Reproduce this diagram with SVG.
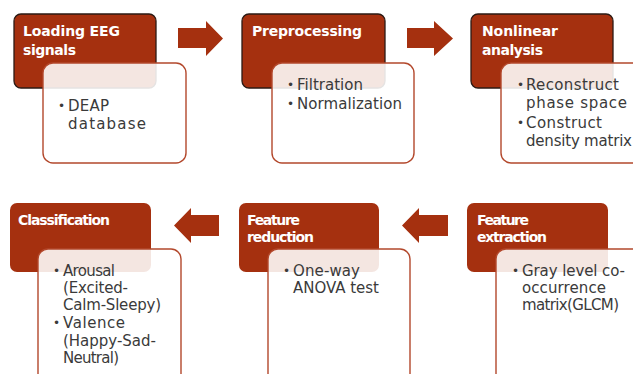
<svg xmlns="http://www.w3.org/2000/svg" width="633" height="374" viewBox="0 0 633 374">
<style>
.hd{fill:#a5300f;}
.hdo{fill:#a5300f;stroke:#2b1a14;stroke-width:1.3;}
.bd{fill:#ffffff;fill-opacity:0.88;stroke:#b3482c;stroke-width:1.4;}
.ht{font-family:"DejaVu Sans","Liberation Sans",Arial,sans-serif;font-weight:bold;font-size:14px;fill:#ffffff;}
.bt{font-family:"DejaVu Sans","Liberation Sans",Arial,sans-serif;font-size:15px;fill:#3a3a3a;}
.bu{font-family:"DejaVu Sans","Liberation Sans",Arial,sans-serif;font-size:12px;fill:#3a3a3a;}
.ar{fill:#a5300f;}
</style>
<rect width="633" height="374" fill="#ffffff"/>
<g id="connectors">
<polygon class="ar" points="178,28 206,28 206,21 223,38.5 206,56 206,48 178,48"/>
<polygon class="ar" points="407,28 434,28 434,21 453,38.5 434,56 434,48 407,48"/>
<polygon class="ar" points="219,215 191,215 191,208 174,225.5 191,243 191,236 219,236"/>
<polygon class="ar" points="448,215 419,215 419,208 402,225.5 419,243 419,236 448,236"/>
</g>
<g id="node-loading">
<rect class="hdo" x="14" y="14" width="142" height="74" rx="7"/>
<text class="ht" x="23" y="36" textLength="97" lengthAdjust="spacing">Loading EEG</text>
<text class="ht" x="23" y="55" textLength="53" lengthAdjust="spacing">signals</text>
<rect class="bd" x="43" y="63" width="143" height="100" rx="10"/>
<text class="bu" x="58" y="110">•</text>
<text class="bt" x="68" y="111" textLength="41" lengthAdjust="spacing">DEAP</text>
<text class="bt" x="68" y="129" textLength="78" lengthAdjust="spacing">database</text>
</g>
<g id="node-preprocessing">
<rect class="hdo" x="242" y="14" width="143" height="74" rx="7"/>
<text class="ht" x="252" y="36" textLength="110" lengthAdjust="spacing">Preprocessing</text>
<rect class="bd" x="272" y="63" width="142" height="100" rx="10"/>
<text class="bu" x="287" y="89">•</text>
<text class="bt" x="297" y="90" textLength="66" lengthAdjust="spacing">Filtration</text>
<text class="bu" x="287" y="108">•</text>
<text class="bt" x="297" y="109" textLength="105" lengthAdjust="spacing">Normalization</text>
</g>
<g id="node-nonlinear">
<rect class="hdo" x="471" y="14" width="142" height="74" rx="7"/>
<text class="ht" x="482" y="36" textLength="76" lengthAdjust="spacing">Nonlinear</text>
<text class="ht" x="482" y="55" textLength="61" lengthAdjust="spacing">analysis</text>
<rect class="bd" x="501" y="63" width="142" height="100" rx="10"/>
<text class="bu" x="517" y="89">•</text>
<text class="bt" x="526" y="90" textLength="93" lengthAdjust="spacing">Reconstruct</text>
<text class="bt" x="526" y="108" textLength="101" lengthAdjust="spacing">phase space</text>
<text class="bu" x="517" y="127">•</text>
<text class="bt" x="526" y="128" textLength="76" lengthAdjust="spacing">Construct</text>
<text class="bt" x="526" y="146" textLength="106" lengthAdjust="spacing">density matrix</text>
</g>
<g id="node-classification">
<rect class="hd" x="10" y="203" width="141" height="69" rx="7"/>
<text class="ht" x="18" y="225" textLength="92" lengthAdjust="spacing">Classification</text>
<rect class="bd" x="38" y="249" width="143" height="135" rx="10"/>
<text class="bu" x="53" y="275">•</text>
<text class="bt" x="63" y="276" textLength="52" lengthAdjust="spacing">Arousal</text>
<text class="bt" x="63" y="293" textLength="65" lengthAdjust="spacing">(Excited-</text>
<text class="bt" x="63" y="310" textLength="98" lengthAdjust="spacing">Calm-Sleepy)</text>
<text class="bu" x="53" y="327">•</text>
<text class="bt" x="63" y="328" textLength="62" lengthAdjust="spacing">Valence</text>
<text class="bt" x="63" y="346" textLength="93" lengthAdjust="spacing">(Happy-Sad-</text>
<text class="bt" x="63" y="363" textLength="56" lengthAdjust="spacing">Neutral)</text>
</g>
<g id="node-reduction">
<rect class="hd" x="239" y="203" width="140" height="69" rx="7"/>
<text class="ht" x="247" y="225" textLength="53" lengthAdjust="spacing">Feature</text>
<text class="ht" x="247" y="242" textLength="67" lengthAdjust="spacing">reduction</text>
<rect class="bd" x="268" y="249" width="142" height="135" rx="10"/>
<text class="bu" x="283" y="275">•</text>
<text class="bt" x="293" y="276" textLength="67" lengthAdjust="spacing">One-way</text>
<text class="bt" x="293" y="293" textLength="86" lengthAdjust="spacing">ANOVA test</text>
</g>
<g id="node-extraction">
<rect class="hd" x="467" y="203" width="141" height="69" rx="7"/>
<text class="ht" x="477" y="225" textLength="52" lengthAdjust="spacing">Feature</text>
<text class="ht" x="477" y="242" textLength="70" lengthAdjust="spacing">extraction</text>
<rect class="bd" x="496" y="249" width="147" height="135" rx="10"/>
<text class="bu" x="512" y="275">•</text>
<text class="bt" x="522" y="276" textLength="103" lengthAdjust="spacing">Gray level co-</text>
<text class="bt" x="522" y="293" textLength="84" lengthAdjust="spacing">occurrence</text>
<text class="bt" x="522" y="310" textLength="97" lengthAdjust="spacing">matrix(GLCM)</text>
</g>
</svg>
